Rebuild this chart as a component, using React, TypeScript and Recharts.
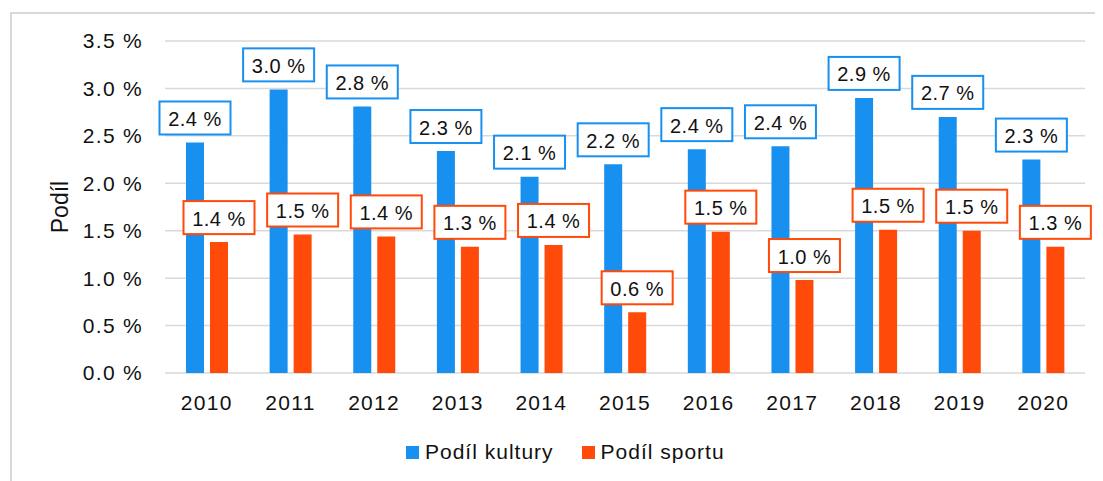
import React from "react"
import { BarChart, Bar, XAxis, YAxis, CartesianGrid, Legend, LabelList, Label } from "recharts"

const years = ["2010", "2011", "2012", "2013", "2014", "2015", "2016", "2017", "2018", "2019", "2020"]
const kultura = [2.43, 2.99, 2.81, 2.34, 2.07, 2.2, 2.36, 2.39, 2.9, 2.7, 2.25]
const sport = [1.38, 1.46, 1.44, 1.33, 1.35, 0.64, 1.49, 0.98, 1.51, 1.5, 1.33]
const yTicks = [0, 0.5, 1, 1.5, 2, 2.5, 3, 3.5]

const BLUE = "#1890F0"
const ORANGE = "#FF4A0A"
const FONT = "'Liberation Sans', Arial, sans-serif"

const data = years.map((year, i) => ({ year, kultura: kultura[i], sport: sport[i] }))

const fmt = (v: number) => `${v.toFixed(1)} %`

// boxed value label above each bar
const BoxLabel = (color: string) => (props: any) => {
  const { x, y, width, value } = props
  const cx = x + width / 2
  const w = 71
  const h = 33
  const top = y - 8 - h
  return (
    <g>
      <rect x={cx - w / 2} y={top} width={w} height={h} fill="#fff" stroke={color} strokeWidth={2} />
      <text
        x={cx}
        y={top + h / 2 + 1}
        textAnchor="middle"
        dominantBaseline="central"
        fontSize={20}
        letterSpacing={0.5}
        fontFamily={FONT}
        fill="#111"
      >
        {fmt(value)}
      </text>
    </g>
  )
}

const CustomLegend = () => (
  <div style={{ height: 24, display: "flex", alignItems: "center", paddingLeft: 398, fontFamily: FONT, fontSize: 21, letterSpacing: 1, color: "#111" }}>
    <span style={{ width: 13, height: 13, background: BLUE, marginRight: 6, display: "inline-block" }} />
    <span style={{ marginRight: 28 }}>Podíl kultury</span>
    <span style={{ width: 13, height: 13, background: ORANGE, marginRight: 6, display: "inline-block" }} />
    <span>Podíl sportu</span>
  </div>
)

export default function App() {
  return (
    <div style={{ position: "relative", width: 1095, height: 473 }}>
      <div
        style={{
          position: "absolute",
          left: 2,
          top: 4,
          width: 1093,
          height: 469,
          borderTop: "2px solid #d9d9d9",
          borderLeft: "2px solid #d9d9d9",
          boxSizing: "border-box",
        }}
      />
      <BarChart
        width={1095}
        height={473}
        data={data}
        margin={{ top: 33, right: 18, left: 0, bottom: 17 }}
        barSize={18}
        barGap={6}
        style={{ position: "absolute", left: 0, top: 0 }}
      >
        <CartesianGrid vertical={false} stroke="#d9d9d9" strokeWidth={1.5} />
        <XAxis
          dataKey="year"
          axisLine={false}
          tickLine={false}
          height={67}
          tickMargin={16}
          tick={{ fontSize: 21, fill: "#111", fontFamily: FONT, letterSpacing: 1.3 }}
        />
        <YAxis
          width={157}
          domain={[0, 3.5]}
          ticks={yTicks}
          axisLine={false}
          tickLine={false}
          tickMargin={16}
          tickFormatter={fmt}
          tick={{ fontSize: 21, fill: "#111", fontFamily: FONT, letterSpacing: 1.3 }}
        >
          <Label
            content={() => (
              <text
                x={52}
                y={199}
                transform="rotate(-90, 52, 199)"
                textAnchor="middle"
                dominantBaseline="central"
                fontSize={23}
                fontFamily={FONT}
                fill="#111"
              >
                Podíl
              </text>
            )}
          />
        </YAxis>
        <Legend verticalAlign="bottom" height={24} content={<CustomLegend />} />
        <Bar dataKey="kultura" name="Podíl kultury" fill={BLUE} isAnimationActive={false}>
          <LabelList dataKey="kultura" content={BoxLabel(BLUE)} />
        </Bar>
        <Bar dataKey="sport" name="Podíl sportu" fill={ORANGE} isAnimationActive={false}>
          <LabelList dataKey="sport" content={BoxLabel(ORANGE)} />
        </Bar>
      </BarChart>
    </div>
  )
}
